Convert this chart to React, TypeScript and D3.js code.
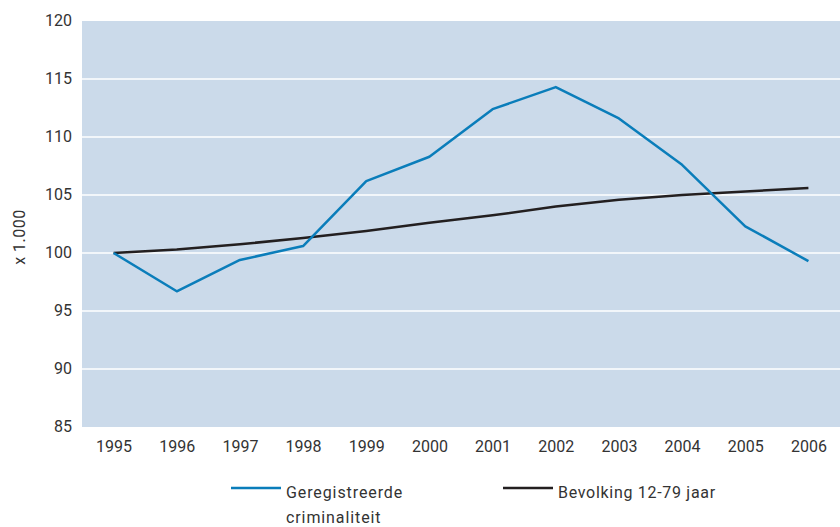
import React from "react";
import * as d3 from "d3";

const years = ["1995","1996","1997","1998","1999","2000","2001","2002","2003","2004","2005","2006"];
const criminaliteit = [100, 96.7, 99.4, 100.6, 106.2, 108.3, 112.4, 114.3, 111.6, 107.6, 102.3, 99.3];
const bevolking = [100, 100.3, 100.75, 101.3, 101.9, 102.6, 103.25, 104.0, 104.6, 105.0, 105.3, 105.6];
const yTicks = [85, 90, 95, 100, 105, 110, 115, 120];

const W = 840, H = 527;
const L = 82, R = 840, T = 21, B = 427;
const font = "Roboto, 'Noto Sans', sans-serif";
const fs = 16;

export default function App() {
  const x = d3.scalePoint<string>().domain(years).range([L, R]).padding(0.5);
  const y = d3.scaleLinear().domain([85, 120]).range([B, T]);
  const line = d3.line<number>().x((_, i) => x(years[i])!).y(d => y(d));
  return (
    <svg width={W} height={H} style={{ position: "absolute", left: 0, top: 0 }}>
      <rect x={0} y={0} width={W} height={H} fill="#fff" />
      <rect x={L} y={T} width={R - L} height={B - T} fill="#cbdaea" />
      {yTicks.filter(t => t > 85 && t < 120).map(t => (
        <line key={t} x1={L} x2={R} y1={y(t)} y2={y(t)} stroke="#fff" strokeWidth={1.5} />
      ))}
      {yTicks.map(t => (
        <text key={t} x={72} y={y(t) - 1} dy="0.35em" textAnchor="end" fontFamily={font} fontSize={fs} fill="#333">{t}</text>
      ))}
      {years.map(yr => (
        <text key={yr} x={x(yr)! + 0.5} y={446} dy="0.35em" textAnchor="middle" fontFamily={font} fontSize={fs} fill="#333">{yr}</text>
      ))}
      <text transform={`translate(19,${237}) rotate(-90)`} textAnchor="middle" dy="0.35em" fontFamily={font} fontSize={fs} fill="#333" letterSpacing={0.5}>x 1.000</text>
      <path d={line(bevolking)!} fill="none" stroke="#231f20" strokeWidth={2.5} strokeLinejoin="round" />
      <path d={line(criminaliteit)!} fill="none" stroke="#0a7dba" strokeWidth={2.5} strokeLinejoin="round" />
      <line x1={231} x2={281} y1={488} y2={488} stroke="#0a7dba" strokeWidth={2.5} />
      <text x={286} y={492} dy="0.35em" fontFamily={font} fontSize={fs} fill="#333" letterSpacing={0.9}>Geregistreerde</text>
      <text x={286} y={517} dy="0.35em" fontFamily={font} fontSize={fs} fill="#333" letterSpacing={0.9}>criminaliteit</text>
      <line x1={503} x2={553} y1={488} y2={488} stroke="#231f20" strokeWidth={2.5} />
      <text x={558} y={492} dy="0.35em" fontFamily={font} fontSize={fs} fill="#333" letterSpacing={0.7}>Bevolking 12-79 jaar</text>
    </svg>
  );
}
